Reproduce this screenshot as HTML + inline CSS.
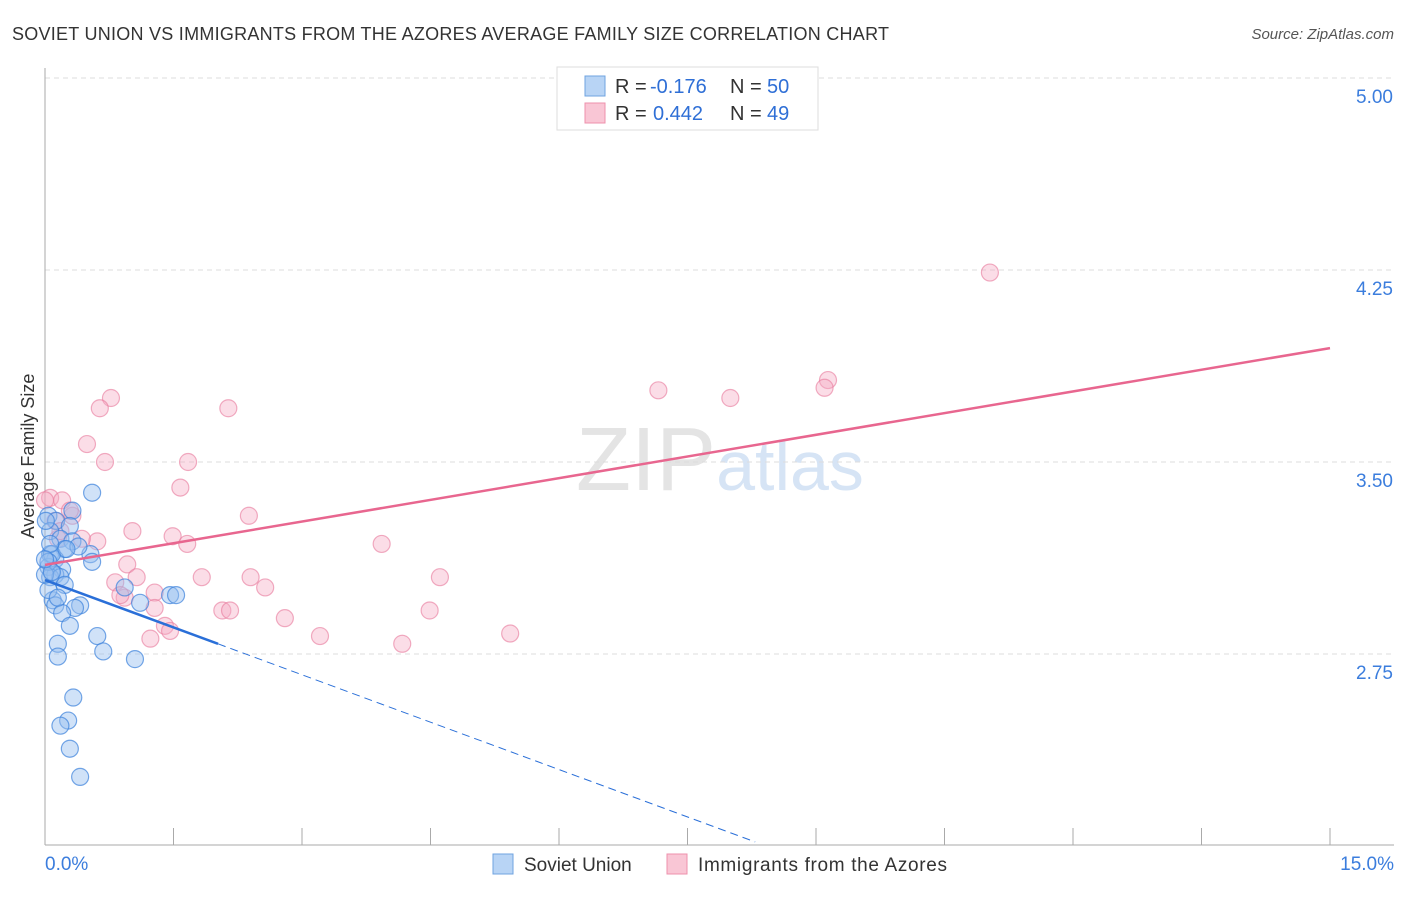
<!DOCTYPE html>
<html><head><meta charset="utf-8"><style>
body{margin:0;background:#fff;font-family:"Liberation Sans",sans-serif}
svg text{font-family:"Liberation Sans",sans-serif}
</style></head><body>
<svg id="chart" width="1406" height="892" xmlns="http://www.w3.org/2000/svg">
<text x="12" y="40" font-size="18" fill="#333" textLength="877">SOVIET UNION VS IMMIGRANTS FROM THE AZORES AVERAGE FAMILY SIZE CORRELATION CHART</text>
<text x="1394" y="39" font-size="15" fill="#555" text-anchor="end" font-style="italic">Source: ZipAtlas.com</text>
<text x="720" y="490" font-size="90" fill="#e4e4e4" text-anchor="middle" font-family="Liberation Serif">ZIP<tspan fill="#d6e4f5" font-family="Liberation Sans" font-size="70">atlas</tspan></text>
<text transform="translate(34,456) rotate(-90)" font-size="18" fill="#333" text-anchor="middle">Average Family Size</text>
<g id="grid"></g><g id="axes"></g><g id="pts"></g><g id="lines"></g>
<g>
<rect x="557" y="67" width="261" height="63" fill="#fff" stroke="#ddd"/>
<rect x="585" y="76" width="20" height="20" fill="#b8d4f5" stroke="#6fa3e0"/>
<text x="615" y="93" font-size="20" fill="#333">R =</text>
<text x="650" y="93" font-size="20" fill="#2f6fd6">-0.176</text>
<text x="730" y="93" font-size="20" fill="#333">N =</text>
<text x="767" y="93" font-size="20" fill="#2f6fd6">50</text>
<rect x="585" y="103" width="20" height="20" fill="#f9c6d5" stroke="#ee90ac"/>
<text x="615" y="120" font-size="20" fill="#333">R =</text>
<text x="653" y="120" font-size="20" fill="#2f6fd6">0.442</text>
<text x="730" y="120" font-size="20" fill="#333">N =</text>
<text x="767" y="120" font-size="20" fill="#2f6fd6">49</text>
</g>
<g>
<rect x="493" y="854" width="20" height="20" fill="#b8d4f5" stroke="#6fa3e0"/>
<text x="524" y="871" font-size="19" fill="#333">Soviet Union</text>
<rect x="667" y="854" width="20" height="20" fill="#f9c6d5" stroke="#ee90ac"/>
<text x="698" y="871" font-size="19" fill="#333" textLength="249">Immigrants from the Azores</text>
</g>
</svg>
<script>
const yTicks=[5.00,4.25,3.50,2.75];
const xTickLabels=["0.0%","15.0%"];
const blueX=[0.55,0.32,0.04,0.13,0.29,0.06,0.18,0.32,0.23,0.06,0.53,0.12,0.55,0.04,0.20,0.12,0.06,0.18,0.23,0.93,1.46,1.53,1.11,0.09,0.12,0.41,0.35,0.20,0.29,0.61,0.15,0.68,0.15,1.05,0.33,0.27,0.18,0.29,0.41,0.08,0.04,0.15,0.04,0.39,0.06,0.0,0.25,0.08,0.01,0.0];
const blueY=[3.38,3.31,3.29,3.27,3.25,3.23,3.20,3.19,3.16,3.14,3.14,3.12,3.11,3.09,3.08,3.06,3.05,3.05,3.02,3.01,2.98,2.98,2.95,2.96,2.94,2.94,2.93,2.91,2.86,2.82,2.79,2.76,2.74,2.73,2.58,2.49,2.47,2.38,2.27,3.14,3.00,2.97,3.11,3.17,3.18,3.06,3.16,3.07,3.27,3.12];
const pinkX=[11.03,9.14,9.10,7.16,8.00,0.77,0.64,2.14,0.49,0.70,1.67,1.58,0.06,0.20,2.38,0.32,1.02,1.49,3.93,1.66,0.61,0.43,0.29,0.15,0.96,1.07,2.40,1.83,4.61,0.82,2.57,0.93,0.88,1.28,2.07,2.16,4.49,1.28,2.80,3.21,4.17,5.43,1.23,1.40,1.46,0.12,0.0,0.18];
const pinkY=[4.24,3.82,3.79,3.78,3.75,3.75,3.71,3.71,3.57,3.50,3.50,3.40,3.36,3.35,3.29,3.29,3.23,3.21,3.18,3.18,3.19,3.20,3.31,3.20,3.10,3.05,3.05,3.05,3.05,3.03,3.01,2.97,2.98,2.99,2.92,2.92,2.92,2.93,2.89,2.82,2.79,2.83,2.81,2.86,2.84,3.27,3.35,3.23];
const pinkTrend=[3.098,3.945];
const blueTrend=[3.039,-0.1234];
const X=v=>45+v/15*1285, Y=v=>78+(5-v)*256;
const NS="http://www.w3.org/2000/svg";
function mk(p,t,a){const e=document.createElementNS(NS,t);for(const k in a)e.setAttribute(k,a[k]);document.getElementById(p).appendChild(e);return e;}
yTicks.forEach((t,i)=>{
 const l=mk('grid','line',{x1:45,x2:1394,y1:Y(t),y2:Y(t),stroke:'#ddd','stroke-dasharray':'5,4'});
 
 
 const tx=mk('grid','text',{x:1393,y:Y(t)+25,'font-size':19,fill:'#3b7ddd','text-anchor':'end'});
 tx.textContent=t.toFixed(2);
 
 
});
const ax=mk('axes','line',{x1:45,x2:45,y1:68,y2:845,stroke:'#aaa'});


const bx=mk('axes','line',{x1:45,x2:1394,y1:845,y2:845,stroke:'#aaa'});


for(let i=0;i<=10;i++){const t=mk('axes','line',{x1:X(i*1.5),x2:X(i*1.5),y1:828,y2:845,stroke:'#aaa'});
 
 }
[[0,'start',45],[1,'end',1394]].forEach(([i,a,x])=>{const t=mk('axes','text',{x:x,y:870,'font-size':19,fill:'#3b7ddd','text-anchor':a});t.textContent=xTickLabels[i];
 
 });
pinkX.forEach((v,i)=>{const c=mk('pts','circle',{cx:X(v),cy:Y(pinkY[i]),r:8.5,fill:'rgba(246,170,195,0.4)',stroke:'rgba(232,120,155,0.6)','stroke-width':1.2});
 
 });
blueX.forEach((v,i)=>{const c=mk('pts','circle',{cx:X(v),cy:Y(blueY[i]),r:8.5,fill:'rgba(150,190,240,0.45)',stroke:'rgba(60,130,220,0.7)','stroke-width':1.2});
 
 });
const pl=mk('lines','line',{x1:X(0),y1:Y(pinkTrend[0]),x2:X(15),y2:Y(pinkTrend[1]),stroke:'#e8668f','stroke-width':2.5});


const bs=mk('lines','line',{x1:X(0),y1:Y(blueTrend[0]),x2:X(2.02),y2:Y(blueTrend[0]+blueTrend[1]*2.02),stroke:'#2a6fd8','stroke-width':2.5});


const bd=mk('lines','line',{x1:X(2.02),y1:Y(blueTrend[0]+blueTrend[1]*2.02),x2:X(8.29),y2:Y(blueTrend[0]+blueTrend[1]*8.29),stroke:'#2a6fd8','stroke-width':1,'stroke-dasharray':'8,5'});


</script>
</body></html>
